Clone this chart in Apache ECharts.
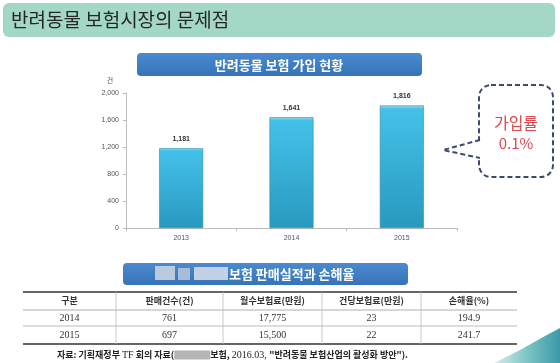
<!DOCTYPE html>
<html><head><meta charset="utf-8">
<script src="https://cdn.jsdelivr.net/npm/echarts@6/dist/echarts.min.js"></script>
<style>html,body{margin:0;padding:0;background:#fff}#c{width:560px;height:363px}</style>
</head><body><div id="c"></div>
<script>
const years = ['2013', '2014', '2015'];
const subscriptions = [1181, 1641, 1816];
const yTicks = [0, 400, 800, 1200, 1600, 2000];
const tableHeaders = ['구분', '판매건수(건)', '월수보험료(만원)', '건당보험료(만원)', '손해율(%)'];
const tableYears = ['2014', '2015'];
const salesCount = ['761', '697'];
const monthlyPremium = ['17,775', '15,500'];
const perPremium = ['23', '22'];
const lossRatio = ['194.9', '241.7'];

const KR = '"Noto Sans CJK KR", "Noto Sans", sans-serif';
const SERIF = '"Liberation Serif", "DejaVu Serif", serif';
const chart = echarts.init(document.getElementById('c'), null, {renderer: 'canvas'});

const colX = [23, 116, 223, 322, 421, 517];
const rowY = [292, 310, 326, 344];
const g = [];
// title band
g.push({type: 'rect', shape: {x: 3, y: 3, width: 552, height: 34, r: 6}, style: {fill: '#a3d8c7'}, z: 1});
g.push({type: 'text', x: 11, y: 20, style: {text: '반려동물 보험시장의 문제점', font: '19px ' + KR, fill: '#262626', textVerticalAlign: 'middle'}, z: 2});
// chart header box
g.push({type: 'rect', shape: {x: 137, y: 53, width: 285, height: 23, r: 4}, style: {fill: new echarts.graphic.LinearGradient(0, 0, 0, 1, [{offset: 0, color: '#4a8ad0'}, {offset: 1, color: '#3674b6'}])}, z: 1});
g.push({type: 'text', x: 279, y: 65, style: {text: '반려동물 보험 가입 현황', font: 'bold 13px ' + KR, fill: '#fff', textAlign: 'center', textVerticalAlign: 'middle'}, z: 2});
// unit
g.push({type: 'text', x: 110, y: 80, style: {text: '건', font: '7px ' + KR, fill: '#555', textAlign: 'center', textVerticalAlign: 'middle'}, z: 2});
// callout
g.push({type: 'rect', shape: {x: 479, y: 85, width: 74, height: 92, r: 12}, style: {fill: '#fff', stroke: '#3b4a6e', lineWidth: 2, lineDash: [5, 3]}, z: 3});
g.push({type: 'rect', shape: {x: 476, y: 141, width: 6, height: 17}, style: {fill: '#fff'}, z: 4});
g.push({type: 'polyline', shape: {points: [[480, 140], [443, 150], [480, 158]]}, style: {stroke: '#3b4a6e', lineWidth: 2, lineDash: [5, 3], fill: null}, z: 5});
g.push({type: 'text', x: 516, y: 123, style: {text: '가입률', font: '16px ' + KR, fill: '#e0474c', textAlign: 'center', textVerticalAlign: 'middle'}, z: 6});
g.push({type: 'text', x: 516, y: 143, style: {text: '0.1%', font: '15px ' + KR, fill: '#e0474c', textAlign: 'center', textVerticalAlign: 'middle'}, z: 6});
// table header box
g.push({type: 'rect', shape: {x: 123, y: 263, width: 285, height: 22, r: 4}, style: {fill: new echarts.graphic.LinearGradient(0, 0, 0, 1, [{offset: 0, color: '#4a8ad0'}, {offset: 1, color: '#3674b6'}])}, z: 1});
g.push({type: 'rect', shape: {x: 155, y: 266, width: 20, height: 14}, style: {fill: '#b9c9de'}, z: 2});
g.push({type: 'rect', shape: {x: 178, y: 268, width: 12, height: 12}, style: {fill: '#a9bcd6'}, z: 2});
g.push({type: 'rect', shape: {x: 194, y: 267, width: 34, height: 13}, style: {fill: '#c3d1e4'}, z: 2});
g.push({type: 'text', x: 229, y: 274, style: {text: '보험 판매실적과 손해율', font: 'bold 13px ' + KR, fill: '#fff', textVerticalAlign: 'middle'}, z: 2});
// table lines
g.push({type: 'line', shape: {x1: 23, y1: rowY[0], x2: 517, y2: rowY[0]}, style: {stroke: '#333', lineWidth: 1.5}, z: 2});
g.push({type: 'line', shape: {x1: 23, y1: rowY[1], x2: 517, y2: rowY[1]}, style: {stroke: '#999', lineWidth: 0.8}, z: 2});
g.push({type: 'line', shape: {x1: 23, y1: rowY[2], x2: 517, y2: rowY[2]}, style: {stroke: '#aaa', lineWidth: 0.8}, z: 2});
g.push({type: 'line', shape: {x1: 23, y1: rowY[3], x2: 517, y2: rowY[3]}, style: {stroke: '#333', lineWidth: 1.5}, z: 2});
for (let i = 1; i < 5; i++) {
  g.push({type: 'line', shape: {x1: colX[i], y1: rowY[0], x2: colX[i], y2: rowY[3]}, style: {stroke: '#bbb', lineWidth: 0.8}, z: 2});
}
const cx = i => (colX[i] + colX[i + 1]) / 2;
tableHeaders.forEach((h, i) => {
  g.push({type: 'text', x: cx(i), y: 301, style: {text: h, font: 'bold 9px ' + KR, fill: '#333', textAlign: 'center', textVerticalAlign: 'middle'}, z: 3});
});
const cols = [tableYears, salesCount, monthlyPremium, perPremium, lossRatio];
for (let r = 0; r < 2; r++) {
  cols.forEach((col, i) => {
    g.push({type: 'text', x: cx(i), y: (rowY[r + 1] + rowY[r + 2]) / 2 + 0.5, style: {text: col[r], font: '10px ' + SERIF, fill: '#333', textAlign: 'center', textVerticalAlign: 'middle'}, z: 3});
  });
}
// source line
g.push({type: 'text', x: 57, y: 355, style: {
  text: '{k|자료: 기획재정부 }{s|TF}{k| 회의 자료(}{b|}{k|보험, }{s|2016.03, }{k|"반려동물 보험산업의 활성화 방안").}',
  textVerticalAlign: 'middle',
  rich: {
    k: {font: 'bold 9px ' + KR, fill: '#222'},
    s: {font: '10px ' + SERIF, fill: '#222'},
    b: {backgroundColor: '#b5b5b5', width: 36, height: 9}
  }
}, z: 3});
// swoosh decoration
g.push({type: 'polygon', shape: {points: [[494, 363], [520, 350], [545, 336], [560, 328], [560, 363]]},
  style: {fill: new echarts.graphic.LinearGradient(0, 0, 1, 0, [{offset: 0, color: '#d8efee'}, {offset: 0.5, color: '#7cc4c4'}, {offset: 1, color: '#3a9aa8'}])}, z: 1});

chart.setOption({
  animation: false,
  backgroundColor: '#fff',
  grid: {left: 126, right: 103, top: 93, bottom: 135},
  xAxis: {
    type: 'category', data: years,
    axisLine: {lineStyle: {color: '#bbb'}},
    axisTick: {show: true, length: 3, lineStyle: {color: '#bbb'}},
    axisLabel: {fontSize: 7, color: '#555', margin: 7, fontFamily: 'Arial, "Liberation Sans", sans-serif'}
  },
  yAxis: {
    type: 'value', min: 0, max: 2000, interval: 400,
    axisLine: {show: true, lineStyle: {color: '#bbb'}},
    axisTick: {show: true, length: 3, lineStyle: {color: '#bbb'}},
    splitLine: {show: false},
    axisLabel: {fontSize: 7, color: '#555', margin: 7, fontFamily: 'Arial, "Liberation Sans", sans-serif',
      formatter: v => yTicks.includes(v) ? v.toLocaleString('en-US') : ''}
  },
  series: [{
    type: 'bar', data: subscriptions, barWidth: 44,
    itemStyle: {
      color: new echarts.graphic.LinearGradient(0, 0, 0, 1, [{offset: 0, color: '#9adcf0'}, {offset: 0.03, color: '#44c1e8'}, {offset: 1, color: '#2899bf'}]),
      borderColor: '#2a8fb3', borderWidth: 0.6
    },
    label: {show: true, position: 'top', distance: 6, fontSize: 7, fontWeight: 'bold', color: '#333',
      formatter: p => p.value.toLocaleString('en-US')}
  }],
  graphic: g
});
</script></body></html>
